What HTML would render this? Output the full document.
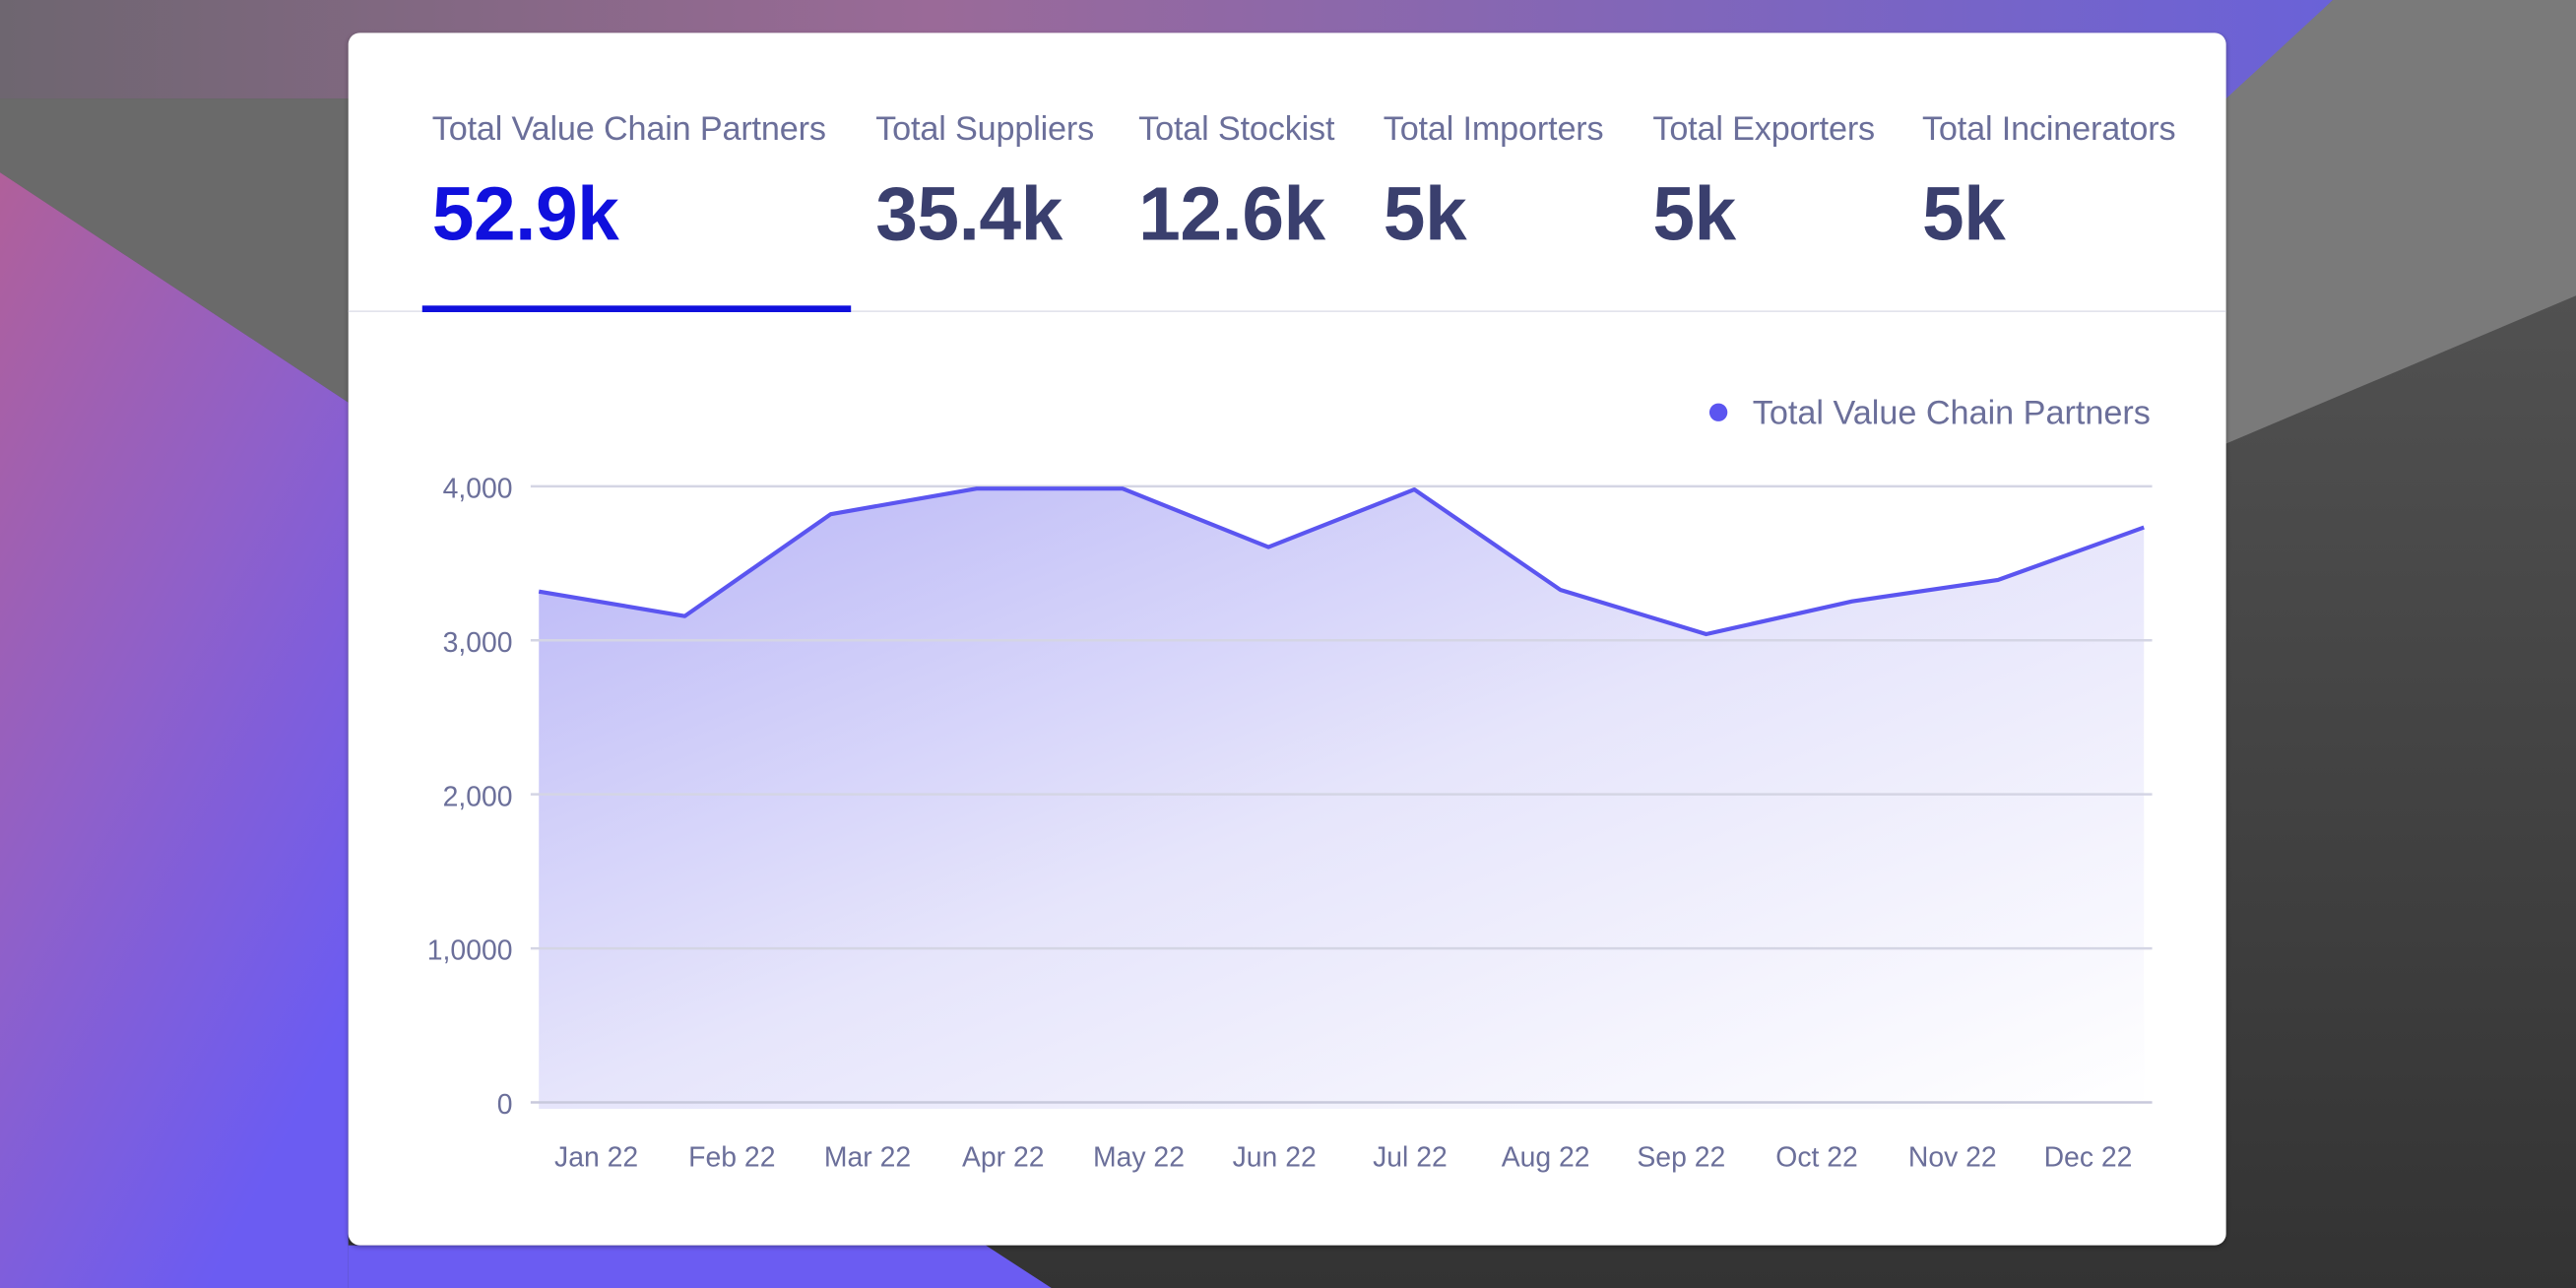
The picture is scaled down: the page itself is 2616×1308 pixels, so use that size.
<!DOCTYPE html>
<html><head><meta charset="utf-8"><style>
html,body{margin:0;padding:0;width:2616px;height:1308px;overflow:hidden;background:#555}
#wrap{position:absolute;left:0;top:0;width:1568px;height:784px;transform:scale(1.66837);transform-origin:0 0;font-family:"Liberation Sans",sans-serif}
.card{position:absolute;left:212px;top:20px;width:1143px;height:738px;background:#fff;border-radius:7px;box-shadow:0 1px 3px rgba(0,0,0,.3)}
.tab{position:absolute;top:47px}
.tl{font-size:20.5px;color:#6b6f9a;white-space:nowrap;letter-spacing:-0.1px}
.tv{font-size:46px;font-weight:bold;color:#3a3f6e;margin-top:12px;letter-spacing:-0.3px}
</style></head><body>
<div id="wrap">
<svg width="1568" height="784" style="position:absolute;left:0;top:0">
<defs>
<linearGradient id="gtop" x1="0" x2="1" y1="0" y2="0"><stop offset="0" stop-color="#6e6670"/><stop offset="0.4" stop-color="#9a6a98"/><stop offset="1" stop-color="#6a62d8"/></linearGradient>
<linearGradient id="gleft" x1="0" x2="0.6" y1="0" y2="1"><stop offset="0" stop-color="#b0609a"/><stop offset="0.5" stop-color="#9060c8"/><stop offset="1" stop-color="#6b5cf2"/></linearGradient>
<linearGradient id="gright" x1="0" x2="0" y1="0" y2="1"><stop offset="0" stop-color="#5a5a5a"/><stop offset="1" stop-color="#333"/></linearGradient>
</defs>
<rect width="1568" height="784" fill="url(#gright)"/>
<polygon points="0,0 1420,0 1360,60 0,60" fill="url(#gtop)"/>
<polygon points="0,60 0,105 212,245 212,60" fill="#6a6a6a"/>
<polygon points="0,105 212,245 212,784 0,784" fill="url(#gleft)"/>
<polygon points="212,758 600,758 640,784 212,784" fill="#6b5cf2"/>
<polygon points="1420,0 1568,0 1568,180 1355,270 1355,60" fill="#7a7a7a"/>
</svg>
<div class="card">
<div class="tab" style="left:51px"><div class="tl">Total Value Chain Partners</div><div class="tv" style="color:#1010dd">52.9k</div></div>
<div class="tab" style="left:321px"><div class="tl">Total Suppliers</div><div class="tv">35.4k</div></div>
<div class="tab" style="left:481px"><div class="tl">Total Stockist</div><div class="tv">12.6k</div></div>
<div class="tab" style="left:630px"><div class="tl">Total Importers</div><div class="tv">5k</div></div>
<div class="tab" style="left:794px"><div class="tl">Total Exporters</div><div class="tv">5k</div></div>
<div class="tab" style="left:958px"><div class="tl">Total Incinerators</div><div class="tv">5k</div></div>
<div style="position:absolute;left:0;top:169px;width:1143px;height:1px;background:#e3e4ec"></div>
<div style="position:absolute;left:45px;top:166px;width:261px;height:4px;background:#1010dd"></div>
</div>
<svg id="chart" width="1568" height="784" style="position:absolute;left:0;top:0">
<defs><linearGradient id="fillg" x1="0" y1="0" x2="1" y2="1"><stop offset="0" stop-color="#b9b6f7"/><stop offset="0.5" stop-color="#e6e5fb"/><stop offset="1" stop-color="#ffffff"/></linearGradient></defs>
</svg>
</div>
<script>
const months=["Jan 22","Feb 22","Mar 22","Apr 22","May 22","Jun 22","Jul 22","Aug 22","Sep 22","Oct 22","Nov 22","Dec 22"];
const values=[3317,3157,3819,3985,3985,3605,3979,3328,3040,3253,3392,3733];
const yTicks=[0,1000,2000,3000,4000];
const yTickLabels=["0","1,0000","2,000","3,000","4,000"];
const seriesName="Total Value Chain Partners";
const NS="http://www.w3.org/2000/svg";
const svg=document.getElementById('chart');
const y0=671,yPer=93.75/1000;
function yS(v){return y0-v*yPer;}
function xS(i){return 328+i*(1305-328)/(values.length-1);}
function labelX(i){return 363+i*(1271-363)/(months.length-1);}
function mk(t,a){const e=document.createElementNS(NS,t);for(const k in a)e.setAttribute(k,a[k]);svg.appendChild(e);return e;}
yTicks.forEach((t,i)=>{
  const l=mk('line',{x1:323,x2:1310,y1:yS(t),y2:yS(t),stroke:i==0?'#c8c9dc':'#d4d5e4','stroke-width':1.5});
  
  
  const tx=mk('text',{x:312,y:yS(t)+7,'text-anchor':'end','font-size':17,fill:'#6b6f9a','font-family':'Liberation Sans, sans-serif'});
  tx.textContent=yTickLabels[i];
  
  
});
let pts=values.map((v,i)=>xS(i)+','+yS(v)).join(' ');
const area=mk('polygon',{points:xS(0)+','+(y0+4)+' '+pts+' '+xS(values.length-1)+','+(y0+4),fill:'url(#fillg)'});


svg.insertBefore(area,svg.querySelector('line'));
const line=mk('polyline',{points:pts,fill:'none',stroke:'#5b55f0','stroke-width':2.5,'stroke-linejoin':'round'});


months.forEach((m,i)=>{
  const tx=mk('text',{x:labelX(i),y:710,'text-anchor':'middle','font-size':17,fill:'#6b6f9a','font-family':'Liberation Sans, sans-serif'});
  tx.textContent=m;
  
  
});
const dot=mk('circle',{cx:1046,cy:251,r:5.5,fill:'#5b55f0'});


const lt=mk('text',{x:1309,y:258,'text-anchor':'end','font-size':20.5,fill:'#6b6f9a','font-family':'Liberation Sans, sans-serif'});
lt.textContent=seriesName;


</script>
</body></html>
